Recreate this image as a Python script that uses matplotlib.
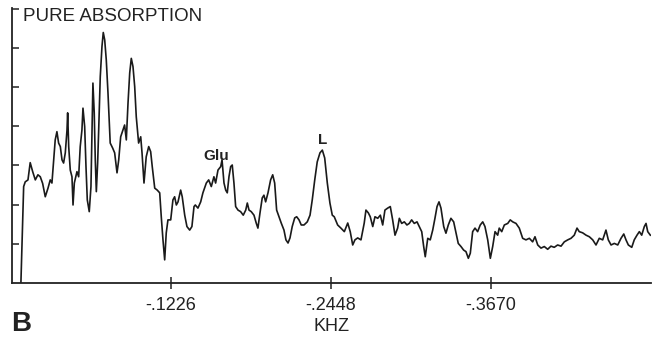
import matplotlib.pyplot as plt

plt.rcParams['font.family'] = ['Liberation Sans', 'DejaVu Sans']

# frequency (kHz) and pure absorption intensity (arbitrary units)
freq = [-0.0080, -0.0101, -0.0113, -0.0134, -0.0151, -0.0170, -0.0190, -0.0210, -0.0228, -0.0246,
        -0.0266, -0.0287, -0.0304, -0.0317, -0.0330, -0.0342, -0.0355, -0.0368, -0.0381, -0.0394,
        -0.0406, -0.0419, -0.0432, -0.0437, -0.0445, -0.0457, -0.0470, -0.0478, -0.0488, -0.0508,
        -0.0521, -0.0533, -0.0546, -0.0554, -0.0567, -0.0577, -0.0587, -0.0602, -0.0615, -0.0623,
        -0.0630, -0.0640, -0.0648, -0.0656, -0.0666, -0.0674, -0.0686, -0.0699, -0.0709, -0.0720,
        -0.0732, -0.0745, -0.0762, -0.0781, -0.0796, -0.0814, -0.0827, -0.0842, -0.0859, -0.0872,
        -0.0885, -0.0898, -0.0911, -0.0923, -0.0936, -0.0949, -0.0961, -0.0979, -0.0995, -0.1005,
        -0.1020, -0.1037, -0.1056, -0.1071, -0.1083, -0.1102, -0.1121, -0.1140, -0.1152, -0.1165,
        -0.1178, -0.1190, -0.1203, -0.1224, -0.1241, -0.1254, -0.1267, -0.1280, -0.1300, -0.1312,
        -0.1331, -0.1348, -0.1369, -0.1386, -0.1402, -0.1412, -0.1432, -0.1453, -0.1470, -0.1496,
        -0.1514, -0.1534, -0.1554, -0.1567, -0.1585, -0.1606, -0.1616, -0.1631, -0.1644, -0.1656,
        -0.1669, -0.1682, -0.1694, -0.1707, -0.1720, -0.1738, -0.1758, -0.1778, -0.1797, -0.1809,
        -0.1822, -0.1839, -0.1860, -0.1877, -0.1890, -0.1906, -0.1923, -0.1936, -0.1949, -0.1967,
        -0.1987, -0.2003, -0.2018, -0.2033, -0.2051, -0.2068, -0.2089, -0.2104, -0.2120, -0.2135,
        -0.2152, -0.2171, -0.2186, -0.2204, -0.2221, -0.2242, -0.2267, -0.2288, -0.2305, -0.2324,
        -0.2343, -0.2364, -0.2382, -0.2400, -0.2420, -0.2440, -0.2458, -0.2473, -0.2499, -0.2524,
        -0.2550, -0.2576, -0.2595, -0.2614, -0.2631, -0.2652, -0.2677, -0.2702, -0.2715, -0.2733,
        -0.2748, -0.2767, -0.2784, -0.2805, -0.2825, -0.2843, -0.2860, -0.2881, -0.2901, -0.2919,
        -0.2937, -0.2957, -0.2970, -0.2988, -0.3008, -0.3028, -0.3046, -0.3064, -0.3084, -0.3105,
        -0.3122, -0.3141, -0.3156, -0.3168, -0.3187, -0.3206, -0.3225, -0.3242, -0.3258, -0.3273,
        -0.3288, -0.3309, -0.3326, -0.3344, -0.3364, -0.3385, -0.3403, -0.3420, -0.3441, -0.3461,
        -0.3479, -0.3497, -0.3512, -0.3530, -0.3548, -0.3568, -0.3588, -0.3607, -0.3624, -0.3645,
        -0.3665, -0.3683, -0.3701, -0.3721, -0.3733, -0.3752, -0.3772, -0.3798, -0.3817, -0.3836,
        -0.3861, -0.3886, -0.3912, -0.3937, -0.3963, -0.3988, -0.4006, -0.4027, -0.4052, -0.4077,
        -0.4103, -0.4128, -0.4153, -0.4179, -0.4205, -0.4230, -0.4256, -0.4281, -0.4306, -0.4327,
        -0.4344, -0.4370, -0.4396, -0.4421, -0.4447, -0.4472, -0.4497, -0.4523, -0.4548, -0.4566,
        -0.4587, -0.4612, -0.4638, -0.4663, -0.4684, -0.4701, -0.4719, -0.4745, -0.4764, -0.4785,
        -0.4803, -0.4821, -0.4841, -0.4854, -0.4867, -0.4887]
absorb = [0.00, 2.46, 2.58, 2.63, 3.07, 2.84, 2.63, 2.76, 2.71, 2.54,
          2.20, 2.42, 2.63, 2.55, 3.14, 3.65, 3.86, 3.57, 3.48, 3.14,
          3.06, 3.32, 3.90, 4.34, 3.48, 2.88, 2.71, 1.99, 2.55, 2.84,
          2.71, 3.48, 3.90, 4.46, 3.99, 2.97, 2.12, 1.82, 2.46, 3.83,
          5.10, 4.34, 3.14, 2.33, 3.06, 3.90, 5.26, 6.03, 6.39, 6.20,
          5.69, 4.85, 3.57, 3.44, 3.32, 2.81, 3.14, 3.73, 3.90, 4.03,
          3.65, 4.59, 5.36, 5.73, 5.52, 5.01, 4.24, 3.57, 3.73, 3.32,
          2.55, 3.22, 3.48, 3.35, 2.97, 2.42, 2.37, 2.30, 1.69, 1.10,
          0.59, 1.28, 1.61, 1.61, 2.12, 2.20, 1.99, 2.07, 2.37, 2.20,
          1.73, 1.44, 1.35, 1.44, 1.95, 1.99, 1.91, 2.07, 2.30, 2.55,
          2.63, 2.46, 2.71, 2.55, 2.88, 2.97, 3.14, 2.55, 2.37, 2.30,
          2.71, 2.97, 3.01, 2.55, 1.95, 1.86, 1.82, 1.73, 1.86, 2.04,
          1.86, 1.82, 1.73, 1.53, 1.40, 1.79, 2.17, 2.24, 2.07, 2.30,
          2.63, 2.76, 2.55, 1.86, 1.69, 1.53, 1.35, 1.10, 1.02, 1.15,
          1.44, 1.66, 1.69, 1.61, 1.48, 1.48, 1.56, 1.73, 2.12, 2.63,
          3.09, 3.32, 3.39, 3.19, 2.55, 2.04, 1.73, 1.69, 1.48, 1.40,
          1.31, 1.53, 1.31, 0.97, 1.10, 1.15, 1.10, 1.53, 1.86, 1.79,
          1.69, 1.44, 1.69, 1.65, 1.73, 1.48, 1.86, 1.91, 1.95, 1.61,
          1.22, 1.40, 1.65, 1.52, 1.56, 1.48, 1.52, 1.61, 1.52, 1.56,
          1.44, 1.31, 0.93, 0.67, 1.14, 1.10, 1.35, 1.65, 1.95, 2.07,
          1.91, 1.44, 1.27, 1.48, 1.65, 1.56, 1.27, 1.01, 0.93, 0.84,
          0.80, 0.63, 0.76, 1.31, 1.40, 1.31, 1.48, 1.56, 1.44, 1.10,
          0.63, 0.93, 1.31, 1.22, 1.40, 1.31, 1.48, 1.52, 1.61, 1.56,
          1.52, 1.40, 1.14, 1.10, 1.14, 1.05, 1.18, 0.97, 0.89, 0.93,
          0.86, 0.94, 0.91, 0.97, 0.94, 1.05, 1.10, 1.14, 1.22, 1.40,
          1.31, 1.28, 1.22, 1.18, 1.10, 0.97, 1.14, 1.10, 1.35, 1.10,
          0.97, 1.01, 0.97, 1.14, 1.25, 1.10, 0.97, 0.91, 1.10, 1.22,
          1.31, 1.22, 1.44, 1.52, 1.31, 1.22]

xtick_pos = [-0.1226, -0.2448, -0.3670]
xtick_labels = ['-.1226', '-.2448', '-.3670']
ytick_pos = [1, 2, 3, 4, 5, 6, 7]

W, H = 662, 337
fig = plt.figure(figsize=(W / 100, H / 100), dpi=100)
ax = fig.add_axes([12 / W, 54 / H, 639 / W, 275.2 / H])

ax.plot(freq, absorb, color='#1a1a1a', linewidth=1.2)

ax.set_xlim(-0.0012, -0.4892)
ax.set_ylim(0, 7.02)

for side in ['top', 'right']:
    ax.spines[side].set_visible(False)
for side in ['left', 'bottom']:
    ax.spines[side].set_linewidth(1.3)
    ax.spines[side].set_color('#222222')

ax.set_xticks(xtick_pos)
ax.set_xticklabels(xtick_labels, fontsize=13, color='#222222')
ax.tick_params(axis='x', direction='inout', length=8, width=1.1, pad=6, colors='#222222')
ax.set_yticks(ytick_pos)
ax.set_yticklabels([])
ax.tick_params(axis='y', direction='in', length=5, width=1.1, colors='#222222')

ax.set_xlabel('KHZ', fontsize=13, color='#222222', labelpad=3)

ax.text(-0.0093, 6.79, 'PURE ABSORPTION', fontsize=13.5, color='#222222', va='center', ha='left')
ax.text(-0.1570, 3.24, 'Glu', fontsize=11, fontweight='bold', color='#222222', ha='center', va='center')
ax.text(-0.2383, 3.65, 'L', fontsize=11, fontweight='bold', color='#222222', ha='center', va='center')

fig.text(11 / W, 1 - 324 / H, 'B', fontsize=20, fontweight='bold', color='#222222', ha='left', va='center')

fig.savefig('out.png', dpi=100)
